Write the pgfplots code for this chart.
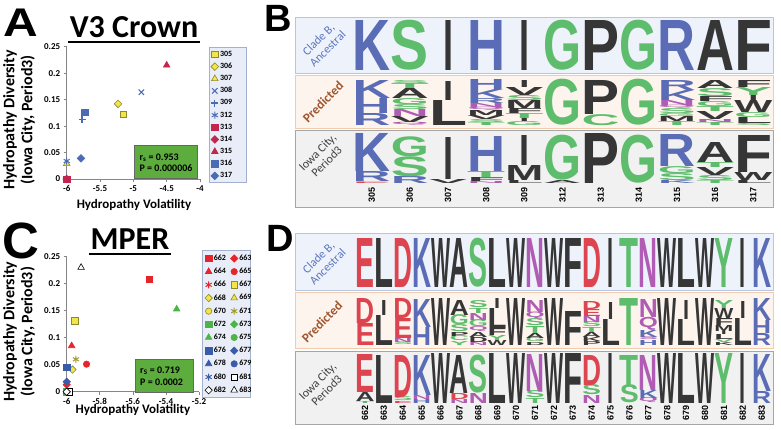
\documentclass[border=0pt]{standalone}
\usepackage{fontspec}
\setmainfont{Carlito}
\newfontfamily\logofont{Liberation Sans}
\usepackage{graphicx}
\usepackage{pgfplots}
\pgfplotsset{compat=1.18}

\definecolor{lb}{HTML}{5A6CB6}
\definecolor{lg}{HTML}{5DBD6C}
\definecolor{ld}{HTML}{363636}
\definecolor{lr}{HTML}{DC4550}
\definecolor{lm}{HTML}{B05CB4}
\definecolor{sy}{HTML}{F2E44A}
\definecolor{syd}{HTML}{8C8A2C}
\definecolor{sb}{HTML}{4A6CB5}
\definecolor{sr}{HTML}{C4254F}
\definecolor{cr}{HTML}{E5252B}
\definecolor{cg}{HTML}{4DB548}
\definecolor{cb}{HTML}{3A5BA8}
\definecolor{axgray}{HTML}{868686}
\definecolor{gbox}{HTML}{5CAC3E}
\definecolor{legfill}{HTML}{E8EDF7}
\definecolor{legdraw}{HTML}{A3B1CF}
\definecolor{r1fill}{HTML}{EEF2FA}
\definecolor{r1draw}{HTML}{B7C5E4}
\definecolor{r2fill}{HTML}{FDF4ED}
\definecolor{r2draw}{HTML}{F0CBAE}
\definecolor{r3fill}{HTML}{F1F1F1}
\definecolor{r3draw}{HTML}{A6A6A6}
\definecolor{labblue}{HTML}{5B77C0}
\definecolor{labbrown}{HTML}{A0562E}
\definecolor{labgray}{HTML}{404040}

\newcommand{\LogoLetter}{\resizebox*{\lgW pt}{\lgH pt}{\color{\lgC}\logofont\bfseries\lgL}}

\pgfplotsset{
  logorow/.style={scale only axis, anchor=south west, height=50pt, ymin=0, ymax=50, clip=false,
    axis line style={draw=none}, tick style={draw=none}, xtick=\empty, ytick=\empty},
  letters/.style={only marks, mark=*, mark size=0pt, mark options={draw=none, fill=none},
    visualization depends on={value \thisrow{h}\as\lgH},
    visualization depends on={value \thisrow{w}\as\lgW},
    visualization depends on={value \thisrow{c}\as\lgC},
    visualization depends on={value \thisrow{L}\as\lgL},
    nodes near coords={\LogoLetter},
    every node near coord/.append style={anchor=south, inner sep=0pt, outer sep=0pt, opacity=1, text opacity=1}},
  excel/.style={scale only axis, anchor=south west, clip=false,
    axis x line*=bottom, axis y line*=left,
    axis line style={draw=axgray, line width=0.6pt},
    tick style={draw=axgray, line width=0.6pt},
    tick align=outside, major tick length=3pt,
    ymin=0, ymax=0.25, ytick={0,0.05,0.1,0.15,0.2,0.25},
    scaled x ticks=false, scaled y ticks=false,
    /pgf/number format/assume math mode=true,
    tick label style={font=\bfseries\fontsize{9}{10}\selectfont},
    yticklabel style={/pgf/number format/fixed, /pgf/number format/precision=2},
    xticklabel style={/pgf/number format/fixed, /pgf/number format/precision=1},
    xlabel style={font=\bfseries\fontsize{13}{15}\selectfont, anchor=base},
    ylabel style={font=\bfseries\fontsize{16}{18}\selectfont, align=center, anchor=center},
    legend cell align=left,
    legend image code/.code={\path[draw=none, fill=none] (0pt,-4pt) rectangle (7pt,4pt);
      \draw[mark repeat=2,mark phase=2,##1] plot coordinates {(0pt,0pt) (3.5pt,0pt) (7pt,0pt)};},
  },
  emk/.style n args={3}{only marks, mark=#1, mark size=#2pt, mark options={solid, line width=0.6pt, #3}},
}

\begin{document}
\begin{tikzpicture}
\path[use as bounding box] (0pt,0pt) rectangle (781pt,-429pt);

% ---------------- Panel A ----------------
\node[font=\logofont\bfseries\fontsize{40}{40}\selectfont, inner sep=0pt] at (20.5pt,-22.5pt) {\scalebox{1.2}[1]{A}};
\node[anchor=base, font=\bfseries\fontsize{32}{32}\selectfont, inner sep=0pt] at (134pt,-37pt) {V3 Crown};
\draw[line width=2pt] (68pt,-41.7pt) -- (200pt,-41.7pt);
\draw[legdraw, fill=legfill] (209pt,-47pt) rectangle (246pt,-182pt);

\begin{axis}[excel, at={(66.7pt,-179pt)}, width=133.3pt, height=132.3pt,
  xmin=-6, xmax=-4, xtick={-6,-5.5,-5,-4.5,-4},
  xlabel={Hydropathy Volatility}, ylabel={Hydropathy Diversity\\(Iowa City, Period3)},
  xlabel style={at={(axis description cs:0.505,-0.223)}},
  ylabel style={at={(axis description cs:-0.358,0.446)}},
  legend style={at={(axis description cs:1.081,0.973)}, anchor=north west, draw=none, fill=none,
    inner sep=0pt, font=\bfseries\fontsize{8}{9}\selectfont, row sep=4.14pt,
    nodes={inner xsep=1.5pt, inner ysep=0pt}},
  legend entries={305,306,307,308,309,312,313,314,315,316,317},
]
\addplot[emk={square*}{3.2}{fill=sy,draw=syd}] coordinates {(-5.15,0.122)};
\addplot[emk={square*}{2.7}{rotate=45,fill=sy,draw=syd}] coordinates {(-5.23,0.142)};
\addplot[emk={triangle*}{3.8}{fill=sy,draw=syd}] coordinates {(-6,0.029)};
\addplot[emk={x}{3.8}{draw=sb,line width=1.1pt}] coordinates {(-4.88,0.164)};
\addplot[emk={+}{3.5}{draw=sb,line width=1.1pt}] coordinates {(-5.77,0.112)};
\addplot[emk={asterisk}{3.5}{draw=sb,line width=1pt}] coordinates {(-6,0.034)};
\addplot[emk={square*}{3.2}{fill=sr,draw=sr}] coordinates {(-6,0)};
\addplot[emk={square*}{2.7}{rotate=45,fill=sr,draw=sr}] coordinates {(-6,0)};
\addplot[emk={triangle*}{3.8}{fill=sr,draw=sr}] coordinates {(-4.5,0.215)};
\addplot[emk={square*}{3.2}{fill=sb,draw=sb}] coordinates {(-5.73,0.126)};
\addplot[emk={square*}{2.7}{rotate=45,fill=sb,draw=sb}] coordinates {(-5.785,0.039)};
\end{axis}
\draw[fill=gbox, draw=black!60, line width=0.5pt] (134pt,-145pt) rectangle (197pt,-178pt);
\node[anchor=base west, inner sep=0pt, font=\bfseries\fontsize{10}{12}\selectfont] at (139.3pt,-160pt) {r\textsubscript{s} = 0.953};
\node[anchor=base west, inner sep=0pt, font=\bfseries\fontsize{10}{12}\selectfont] at (139.3pt,-171.7pt) {P = 0.000006};

% ---------------- Panel C ----------------
\node[font=\logofont\bfseries\fontsize{51}{51}\selectfont, inner sep=0pt] at (20.5pt,-241pt) {C};
\node[anchor=base, font=\bfseries\fontsize{32}{32}\selectfont, inner sep=0pt] at (130pt,-249pt) {MPER};
\draw[line width=2pt] (89pt,-253.7pt) -- (171pt,-253.7pt);
\draw[legdraw, fill=legfill] (201.7pt,-250pt) rectangle (250pt,-396.7pt);

\begin{axis}[excel, at={(66.7pt,-391.7pt)}, width=132.3pt, height=135pt,
  xmin=-6, xmax=-5.2, xtick={-6,-5.8,-5.6,-5.4,-5.2},
  xlabel={Hydropathy Volatility}, ylabel={Hydropathy Diversity\\(Iowa City, Period3)},
  xlabel style={at={(axis description cs:0.501,-0.165)}},
  ylabel style={at={(axis description cs:-0.3605,0.444)}},
  legend columns=2,
  legend style={at={(axis description cs:1.0438,1.018)}, anchor=north west, draw=none, fill=none,
    inner sep=0pt, font=\bfseries\fontsize{8}{9}\selectfont, row sep=5.17pt,
    nodes={inner xsep=1.5pt, inner ysep=0pt},
    /tikz/every even column/.append style={column sep=3pt}},
  legend entries={662,663,664,665,666,667,668,669,670,671,672,673,674,675,676,677,678,679,680,681,682,683},
]
\addplot[emk={square*}{3.2}{fill=cr,draw=cr}] coordinates {(-5.5,0.208)};
\addplot[emk={square*}{2.6}{rotate=45,fill=cr,draw=cr}] coordinates {(-6,0.013)};
\addplot[emk={triangle*}{3.8}{fill=cr,draw=cr}] coordinates {(-5.97,0.085)};
\addplot[emk={*}{3.2}{fill=cr,draw=cr}] coordinates {(-5.88,0.051)};
\addplot[emk={asterisk}{3.5}{draw=cr,line width=1pt}] coordinates {(-6,0)};
\addplot[emk={square*}{3.2}{fill=sy,draw=syd}] coordinates {(-5.95,0.131)};
\addplot[emk={square*}{2.6}{rotate=45,fill=sy,draw=syd}] coordinates {(-5.965,0.041)};
\addplot[emk={triangle*}{3.8}{fill=sy,draw=syd}] coordinates {(-6,0)};
\addplot[emk={*}{3.2}{fill=sy,draw=syd}] coordinates {(-6,0)};
\addplot[emk={asterisk}{3.5}{draw=syd!80!sy,line width=1pt}] coordinates {(-5.944,0.060)};
\addplot[emk={square*}{3.2}{fill=cg,draw=cg}] coordinates {(-6,0)};
\addplot[emk={square*}{2.6}{rotate=45,fill=cg,draw=cg}] coordinates {(-6,0)};
\addplot[emk={triangle*}{3.8}{fill=cg,draw=cg}] coordinates {(-5.335,0.153)};
\addplot[emk={*}{3.2}{fill=cg,draw=cg}] coordinates {(-6,0)};
\addplot[emk={square*}{3.2}{fill=cb,draw=cb}] coordinates {(-6,0.045)};
\addplot[emk={square*}{2.6}{rotate=45,fill=cb,draw=cb}] coordinates {(-6,0.0185)};
\addplot[emk={triangle*}{3.8}{fill=cb,draw=cb}] coordinates {(-6,0)};
\addplot[emk={*}{3.2}{fill=cb,draw=cb}] coordinates {(-6,0)};
\addplot[emk={asterisk}{3.5}{draw=cb,line width=1pt}] coordinates {(-6,0)};
\addplot[emk={square*}{3.2}{fill=white,draw=black}] coordinates {(-5.985,0)};
\addplot[emk={square*}{2.6}{rotate=45,fill=white,draw=black}] coordinates {(-6,0)};
\addplot[emk={triangle*}{3.8}{fill=white,draw=black}] coordinates {(-5.913,0.230)};
\end{axis}
\draw[fill=gbox, draw=black!60, line width=0.5pt] (135pt,-359pt) rectangle (193.3pt,-392.7pt);
\node[anchor=base west, inner sep=0pt, font=\bfseries\fontsize{10}{12}\selectfont] at (140pt,-373.3pt) {r\textsubscript{S} = 0.719};
\node[anchor=base west, inner sep=0pt, font=\bfseries\fontsize{10}{12}\selectfont] at (140pt,-385pt) {P = 0.0002};

% ---------------- Panel B ----------------
\node[font=\logofont\bfseries\fontsize{38}{38}\selectfont, inner sep=0pt] at (278.5pt,-18.5pt) {B};
\draw[r1draw, fill=r1fill] (295pt,-16.7pt) rectangle (773pt,-72.7pt);
\draw[r2draw, fill=r2fill] (295pt,-75pt) rectangle (773pt,-128.3pt);
\draw[r3draw, fill=r3fill] (295pt,-130pt) rectangle (773pt,-206.7pt);
\node[rotate=45, align=center, text=labblue, font=\fontsize{12}{13}\selectfont] at (323pt,-44pt) {Clade B,\\Ancestral};
\node[rotate=45, text=labbrown, font=\bfseries\fontsize{13}{14}\selectfont] at (323pt,-101.7pt) {Predicted};
\node[rotate=45, align=center, text=labgray, font=\fontsize{12}{13}\selectfont] at (322pt,-157pt) {Iowa City,\\Period3};

\begin{axis}[logorow, at={(352.62pt,-70pt)}, width=419.76pt, xmin=-0.5, xmax=10.5]
\addplot[letters] table {
x y h w c L
0 0 50 38 lb K
1 0 50 38 lg S
2 0 50 10 ld I
3 0 50 38 lb H
4 0 50 10 ld I
5 0 50 38 lg G
6 0 50 38 ld P
7 0 50 38 lg G
8 0 50 38 lb R
9 0 50 38 ld A
10 0 50 38 ld F
};
\end{axis}

\begin{axis}[logorow, at={(352.62pt,-125.3pt)}, width=419.76pt, xmin=-0.5, xmax=10.5]
\addplot[letters] table {
x y h w c L
0 0 12 38 lb R
0 12 15 38 lb H
0 27 18 38 lb K
1 0 3 38 lm Q
1 3 6 38 ld V
1 9 7 38 lm N
1 16 5 38 lg S
1 21 6 38 lg G
1 27 10 38 ld A
1 37 5 38 lg T
1 42 3 38 lg S
2 0 25 38 ld L
2 25 19 10 ld I
3 0 3 38 lg T
3 3 3 38 lg S
3 6 4 38 ld V
3 10 5 38 ld M
3 15 3 38 lm Q
3 18 4 38 lm N
3 22 5 38 lb R
3 27 9 38 lb K
3 36 10 38 lb H
4 0 4 38 lg G
4 4 3 10 ld I
4 7 5 38 lg T
4 12 5 38 ld F
4 17 8 38 ld M
4 25 5 38 lg S
4 30 8 38 ld V
4 38 7 10 ld I
5 0 46 38 lg G
6 0 11 38 lg C
6 11 34 38 ld P
7 0 46 38 lg G
8 0 4 38 lg T
8 4 5 38 ld M
8 9 3 38 lg G
8 12 5 38 lg S
8 17 3 38 lm Q
8 20 5 38 lm N
8 25 10 38 lb K
8 35 10 38 lb R
9 0 3 38 lg T
9 3 3 38 lm N
9 6 8 38 ld V
9 14 5 38 lg T
9 19 5 38 lg G
9 24 5 38 ld F
9 29 8 38 lg S
9 37 8 38 ld A
10 0 2 38 lg S
10 2 6 38 ld L
10 8 5 38 lg G
10 13 12 38 ld W
10 25 5 10 ld I
10 30 8 38 lg Y
10 38 7 38 ld F
};
\end{axis}

\begin{axis}[logorow, at={(352.62pt,-183.3pt)}, width=419.76pt, xmin=-0.5, xmax=10.5,
  xtick={0,...,10}, xticklabels={305,306,307,308,309,312,313,314,315,316,317},
  xticklabel style={rotate=90, anchor=east, inner sep=3.5pt, font=\logofont\bfseries\fontsize{9}{10}\selectfont}]
\addplot[letters] table {
x y h w c L
0 0 1.5 38 lr E
0 1.5 10 38 lb R
0 11.5 38 38 lb K
1 0 7 38 lb R
1 7 20 38 lg S
1 27 20 38 lg G
2 0 4 38 ld V
2 4 42 10 ld I
3 0 2 38 lm N
3 2 4 38 ld F
3 6 6 38 lg T
3 12 35 38 lb H
4 0 3 38 ld L
4 3 15 38 ld M
4 18 30 10 ld I
5 0 3 38 ld A
5 3 45 38 lg G
6 0 50 38 ld P
7 0 48 38 lg G
8 0 3 38 lb K
8 3 7 38 lg S
8 10 7 38 lg G
8 17 32 38 lb R
9 0 3 38 lg T
9 3 5 38 lg S
9 8 8 38 ld V
9 16 5 38 lg T
9 21 20 38 ld A
10 0 3 38 ld L
10 3 8 38 ld W
10 11 37 38 ld F
};
\end{axis}

% ---------------- Panel D ----------------
\node[font=\logofont\bfseries\fontsize{38}{38}\selectfont, inner sep=0pt] at (280pt,-238.5pt) {D};
\draw[r1draw, fill=r1fill] (295pt,-233.3pt) rectangle (773pt,-290pt);
\draw[r2draw, fill=r2fill] (295pt,-292.3pt) rectangle (773pt,-348.3pt);
\draw[r3draw, fill=r3fill] (295pt,-351pt) rectangle (773pt,-424.3pt);
\node[rotate=45, align=center, text=labblue, font=\fontsize{12}{13}\selectfont] at (323pt,-262pt) {Clade B,\\Ancestral};
\node[rotate=45, text=labbrown, font=\bfseries\fontsize{13}{14}\selectfont] at (322pt,-321.7pt) {Predicted};
\node[rotate=45, align=center, text=labgray, font=\fontsize{12}{13}\selectfont] at (322pt,-386pt) {Iowa City,\\Period3};

\begin{axis}[logorow, at={(355.56pt,-287pt)}, width=415.58pt, xmin=-0.5, xmax=21.5]
\addplot[letters] table {
x y h w c L
0 0 49 19 lr E
1 0 49 19 ld L
2 0 49 19 lr D
3 0 49 19 lb K
4 0 49 19 ld W
5 0 49 19 ld A
6 0 49 19 lg S
7 0 49 19 ld L
8 0 49 19 ld W
9 0 49 19 lm N
10 0 49 19 ld W
11 0 49 19 ld F
12 0 49 19 lr D
13 0 49 6 ld I
14 0 49 19 lg T
15 0 49 19 lm N
16 0 49 19 ld W
17 0 49 19 ld L
18 0 49 19 ld W
19 0 49 19 lg Y
20 0 49 6 ld I
21 0 49 19 lb K
};
\end{axis}

\begin{axis}[logorow, at={(355.56pt,-345pt)}, width=415.58pt, xmin=-0.5, xmax=21.5]
\addplot[letters] table {
x y h w c L
0 0 22 19 lr E
0 22 25 19 lr D
1 0 30 19 ld L
1 30 15 6 ld I
2 0 3 19 lg S
2 3 4 19 lm N
2 7 20 19 lr E
2 27 20 19 lr D
3 0 18 19 lb H
3 18 28 19 lb K
4 0 47 19 ld W
5 0 4 19 lg Y
5 4 5 19 lg C
5 9 4 19 ld P
5 13 7 19 lg S
5 20 10 19 lg G
5 30 15 19 ld A
6 0 3 19 lm N
6 3 5 19 ld D
6 8 5 19 ld A
6 13 5 19 lm Q
6 18 7 19 lg G
6 25 7 19 lm N
6 32 5 19 lg T
6 37 7 19 lg S
7 0 5 19 ld W
7 5 5 19 lg Y
7 10 7 19 ld F
7 17 20 19 ld L
7 37 10 6 ld I
8 0 47 19 ld W
9 0 3 19 ld D
9 3 4 19 lg G
9 7 5 19 ld A
9 12 7 19 lg T
9 19 7 19 lg S
9 26 7 19 lm Q
9 33 12 19 lm N
10 0 47 19 ld W
11 0 34 19 ld F
12 0 4 19 ld P
12 4 4 19 ld K
12 8 5 19 ld A
12 13 5 19 lg T
12 18 5 19 lg S
12 23 6 19 lm N
12 29 7 19 lr E
12 36 8 19 lr D
13 0 26 19 ld L
13 26 17 6 ld I
14 0 47 19 lg T
15 0 5 19 lb H
15 5 3 19 lm S
15 8 7 19 lb K
15 15 13 19 lm Q
15 28 18 19 lm N
16 0 47 19 ld W
17 0 26 19 ld L
17 26 19 6 ld I
18 0 47 19 ld W
19 0 3 19 ld K
19 3 3 19 lg V
19 6 5 19 ld L
19 11 3 6 ld I
19 14 6 19 ld M
19 20 7 19 ld F
19 27 10 19 ld W
19 37 8 19 lg Y
20 0 27 19 ld L
20 27 17 6 ld I
21 0 12 19 lb R
21 12 13 19 lb H
21 25 22 19 lb K
};
\end{axis}

\begin{axis}[logorow, at={(355.56pt,-403pt)}, width=415.58pt, xmin=-0.5, xmax=21.5,
  xtick={0,...,21}, xticklabels={662,663,664,665,666,667,668,669,670,671,672,673,674,675,676,677,678,679,680,681,682,683},
  xticklabel style={rotate=90, anchor=east, inner sep=2pt, font=\logofont\bfseries\fontsize{9}{10}\selectfont}]
\addplot[letters] table {
x y h w c L
0 0 2 19 lg T
0 2 9 19 ld A
0 11 38 19 lr E
1 0 48 19 ld L
2 0 2 19 lr E
2 2 4 19 lg S
2 6 42 19 lr D
3 0 4 19 lb H
3 4 4 19 lm N
3 8 40 19 lb K
4 0 50 19 ld W
5 0 4 19 lm N
5 4 6 19 lr D
5 10 38 19 ld A
6 0 10 19 lm N
6 10 38 19 lg S
7 0 50 19 ld L
8 0 50 19 ld W
9 0 5 19 lg T
9 5 7 19 lg S
9 12 37 19 lm N
10 0 50 19 ld W
11 0 50 19 ld F
12 0 8 19 lm N
12 8 10 19 lg S
12 18 30 19 lr D
13 0 50 6 ld I
14 0 18 19 lg S
14 18 30 19 lg T
15 0 5 19 lm Q
15 5 8 19 lb K
15 13 35 19 lm N
16 0 50 19 ld W
17 0 50 19 ld L
18 0 50 19 ld W
19 0 50 19 lg Y
20 0 50 6 ld I
21 0 12 19 lb R
21 12 37 19 lb K
};
\end{axis}
\end{tikzpicture}
\end{document}
